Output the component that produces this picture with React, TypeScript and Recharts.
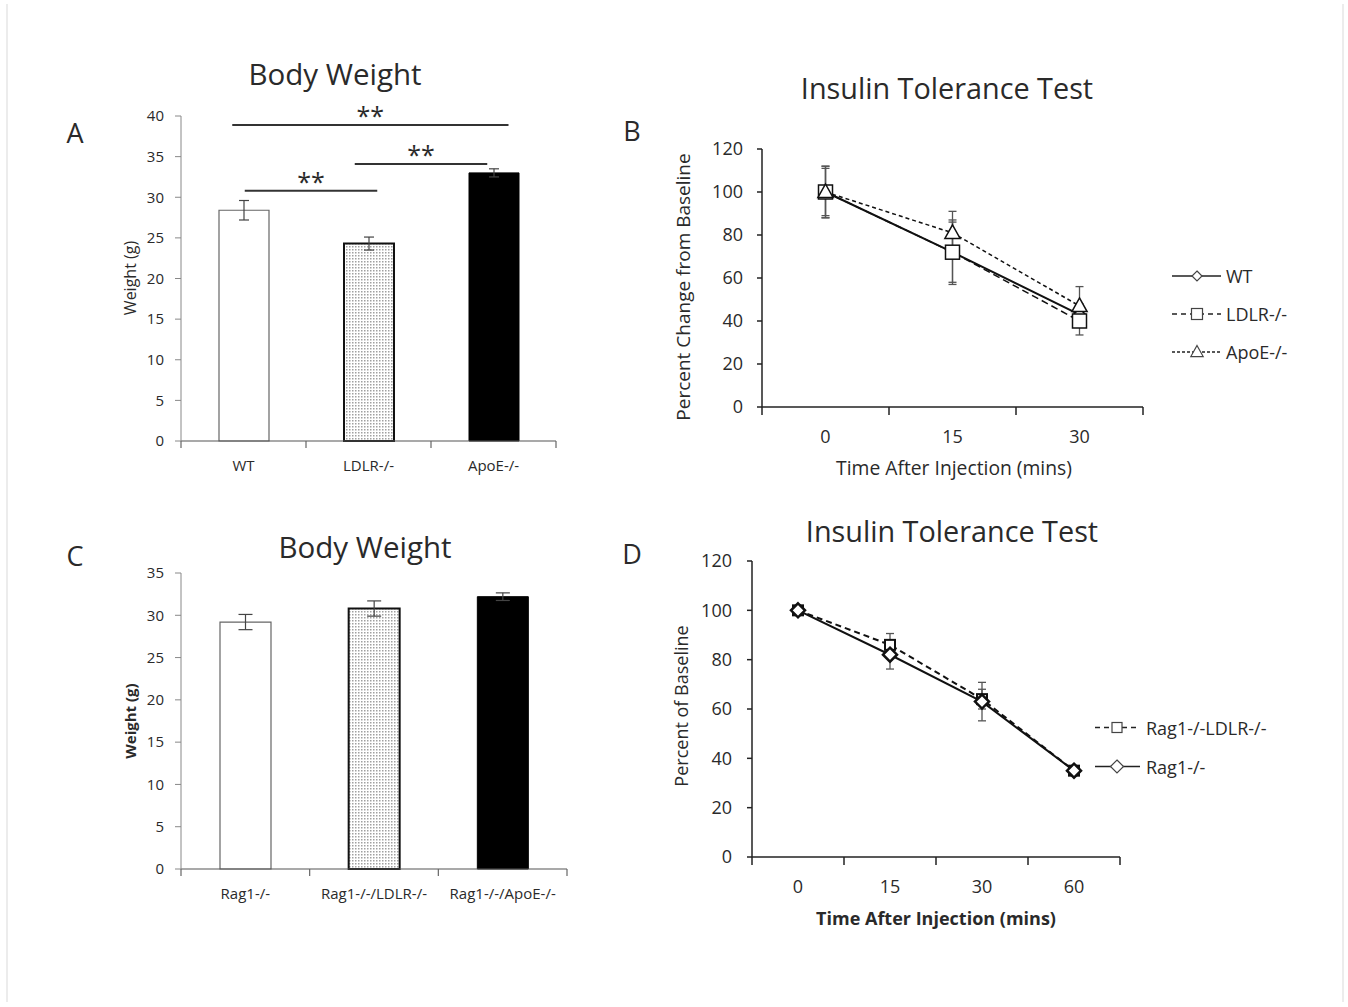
import { BarChart, Bar, LineChart, Line, XAxis, YAxis, ErrorBar, Cell, ReferenceLine, Legend } from 'recharts'

const FONT = "'Open Sans', 'DejaVu Sans', sans-serif"
const INK = '#2a2a2a'

// Panel A - body weight, single knockouts
const groupsA = ['WT', 'LDLR-/-', 'ApoE-/-']
const weightA = [28.4, 24.3, 33.0]
const weightErrA = [1.2, 0.8, 0.5]
// significance brackets (x in group units, y in grams)
const sigA = [
  { from: 0.51, to: 1.57, y: 30.8 },
  { from: 1.39, to: 2.45, y: 34.1 },
  { from: 0.41, to: 2.62, y: 38.9 },
]

// Panel B - insulin tolerance, single knockouts
const timesB = ['0', '15', '30']
const wtB = [100, 72, 43]
const wtErrB = [12, 14, 5]
const ldlrB = [100, 72, 40]
const ldlrErrB = [11, 15, 6.5]
const apoeB = [100, 81, 47]
const apoeErrB = [12, 10, 9]

// Panel C - body weight, Rag1 backgrounds
const groupsC = ['Rag1-/-', 'Rag1-/-/LDLR-/-', 'Rag1-/-/ApoE-/-']
const weightC = [29.2, 30.8, 32.2]
const weightErrC = [0.9, 0.9, 0.45]

// Panel D - insulin tolerance, Rag1 backgrounds
const timesD = ['0', '15', '30', '60']
const rag1LdlrD = [100, 86, 64, 35]
const rag1LdlrErrD = [0.5, 4.6, 4, 1.5]
const rag1D = [100, 82, 63, 35]
const rag1ErrD = [0.5, 5.8, 7.8, 1.5]

const barFills = (pid: string) => ['#fff', `url(#${pid})`, '#000']
const barStrokes = ['#666', '#111', '#000']
const barStrokeWidths = [1.2, 2, 1]

const seriesB = [
  { key: 'wt', name: 'WT', values: wtB, errs: wtErrB, dash: undefined, legendDash: undefined, sw: 2, marker: 'diamond', r: 6, legendR: 5, msw: 1.5 },
  { key: 'ldlr', name: 'LDLR-/-', values: ldlrB, errs: ldlrErrB, dash: '7 4', legendDash: '5 4', sw: 1.5, marker: 'square', r: 7, legendR: 5.5, msw: 1.5 },
  { key: 'apoe', name: 'ApoE-/-', values: apoeB, errs: apoeErrB, dash: '4 3', legendDash: '3 2', sw: 1.5, marker: 'triangle', r: 8, legendR: 6.5, msw: 1.5 },
]

const seriesD = [
  { key: 'rl', name: 'Rag1-/-LDLR-/-', values: rag1LdlrD, errs: rag1LdlrErrD, dash: '6 4', legendDash: '5 4', sw: 2, marker: 'square', r: 5, legendR: 5, msw: 2 },
  { key: 'r', name: 'Rag1-/-', values: rag1D, errs: rag1ErrD, dash: undefined, legendDash: undefined, sw: 2, marker: 'diamond', r: 7, legendR: 6.5, msw: 2.5 },
]

const bandTicks = (n: number) => Array.from({ length: 2 * n + 1 }, (_, i) => i / 2)

// integer ticks = boundary marks, half ticks = category labels
function bandTick(labels: string[], o: { fontSize: number; dy: number; len: number; stroke: string; sw: number; bold?: boolean }) {
  return (props: any) => {
    const { x, y, payload } = props
    const v = Number(payload.value)
    if (Number.isInteger(v)) {
      return <line x1={x} x2={x} y1={y} y2={y + o.len} stroke={o.stroke} strokeWidth={o.sw} />
    }
    return (
      <text x={x} y={y + o.dy} textAnchor="middle" dominantBaseline="central" fontSize={o.fontSize}
        fontFamily={FONT} fill={INK} fontWeight={o.bold ? 700 : 400}>
        {labels[Math.floor(v)]}
      </text>
    )
  }
}

function Marker({ kind, cx, cy, r, sw, stroke = '#111' }: any) {
  if (kind === 'diamond') {
    return <path d={`M${cx} ${cy - r}L${cx + r} ${cy}L${cx} ${cy + r}L${cx - r} ${cy}Z`} fill="#fff" stroke={stroke} strokeWidth={sw} />
  }
  if (kind === 'square') {
    return <rect x={cx - r} y={cy - r} width={2 * r} height={2 * r} fill="#fff" stroke={stroke} strokeWidth={sw} />
  }
  return <path d={`M${cx} ${cy - r}L${cx + r * 0.95} ${cy + r * 0.7}L${cx - r * 0.95} ${cy + r * 0.7}Z`} fill="#fff" stroke={stroke} strokeWidth={sw} />
}

function Txt({ x, y, size, children, bold, rotate }: any) {
  return (
    <div style={{
      position: 'absolute', left: x, top: y, transform: `translate(-50%, -50%)${rotate ? ' rotate(-90deg)' : ''}`,
      fontSize: size, fontWeight: bold ? 700 : 400, lineHeight: 1, whiteSpace: 'nowrap', fontFamily: FONT, color: INK,
    }}>
      {children}
    </div>
  )
}

function WeightChart({ pid, groups, values, errs, yMax, width, height, margin, barSize, capHalf, sig }: any) {
  const data = groups.map((g: string, i: number) => ({ x: i + 0.5, name: g, w: values[i], err: errs[i] }))
  const yTicks = Array.from({ length: yMax / 5 + 1 }, (_, i) => i * 5)
  const fills = barFills(pid)
  return (
    <BarChart width={width} height={height} data={data} margin={margin}>
      <defs>
        <pattern id={pid} width={3} height={3} patternUnits="userSpaceOnUse">
          <rect width={3} height={3} fill="#fff" />
          <rect width={1.5} height={1.5} fill="#a0a0a0" />
        </pattern>
      </defs>
      <XAxis type="number" dataKey="x" domain={[0, groups.length]} ticks={bandTicks(groups.length)} interval={0}
        tickSize={0} tickMargin={0} tickLine={false} height={40} axisLine={{ stroke: '#555', strokeWidth: 1.2 }}
        tick={bandTick(groups, { fontSize: 15, dy: 24, len: 7, stroke: '#666', sw: 1.2 })} />
      <YAxis type="number" domain={[0, yMax]} ticks={yTicks} interval={0} width={60} tickSize={6} tickMargin={11}
        axisLine={{ stroke: '#888' }} tickLine={{ stroke: '#888' }}
        tick={{ fontSize: 15, fill: INK, fontFamily: FONT }} />
      <Bar dataKey="w" barSize={barSize} isAnimationActive={false}>
        {data.map((_: any, i: number) => (
          <Cell key={i} fill={fills[i]} stroke={barStrokes[i]} strokeWidth={barStrokeWidths[i]} />
        ))}
        <ErrorBar dataKey="err" width={capHalf} stroke="#444" strokeWidth={1.2} />
      </Bar>
      {(sig || []).map((s: any, i: number) => (
        <ReferenceLine key={i} segment={[{ x: s.from, y: s.y }, { x: s.to, y: s.y }]} stroke="#333" strokeWidth={2}
          ifOverflow="visible"
          label={{ value: '**', position: 'top', offset: 0, fill: INK, fontSize: 25, fontFamily: FONT }} />
      ))}
    </BarChart>
  )
}

function LegendBox({ items, rowGap, lineEnd, markerX, textX, fontSize }: any) {
  return (
    <svg width={200} height={items.length * rowGap}>
      {items.map((s: any, i: number) => {
        const cy = rowGap / 2 + i * rowGap
        return (
          <g key={s.key}>
            <line x1={2} x2={lineEnd} y1={cy} y2={cy} stroke="#222" strokeWidth={1.5} strokeDasharray={s.legendDash} />
            <Marker kind={s.marker} cx={markerX} cy={cy} r={s.legendR} sw={1.2} stroke="#444" />
            <text x={textX} y={cy} dominantBaseline="central" fontSize={fontSize} fontFamily={FONT} fill={INK}>{s.name}</text>
          </g>
        )
      })}
    </svg>
  )
}

function IttChart({ times, series, width, height, margin, tickFont, tickMargin, xBold, legend }: any) {
  const data = times.map((t: string, i: number) => {
    const row: any = { x: i + 0.5, time: t }
    series.forEach((s: any) => {
      row[s.key] = s.values[i]
      row[`${s.key}Err`] = s.errs[i]
    })
    return row
  })
  return (
    <LineChart width={width} height={height} data={data} margin={margin}>
      <XAxis type="number" dataKey="x" domain={[0, times.length]} ticks={bandTicks(times.length)} interval={0}
        tickSize={0} tickMargin={0} tickLine={false} height={40} axisLine={{ stroke: '#222', strokeWidth: 1.5 }}
        tick={bandTick(times, { fontSize: tickFont, dy: 29, len: 8, stroke: '#222', sw: 1.5, bold: xBold })} />
      <YAxis type="number" domain={[0, 120]} ticks={[0, 20, 40, 60, 80, 100, 120]} interval={0} width={60}
        tickSize={5} tickMargin={tickMargin} axisLine={{ stroke: '#222', strokeWidth: 1.5 }}
        tickLine={{ stroke: '#222', strokeWidth: 1.5 }} tick={{ fontSize: tickFont, fill: INK, fontFamily: FONT }} />
      {series.map((s: any) => (
        <Line key={s.key} type="linear" dataKey={s.key} stroke="#111" strokeWidth={s.sw} strokeDasharray={s.dash}
          isAnimationActive={false} activeDot={false}
          dot={(p: any) => <Marker key={`${s.key}-${p.index}`} kind={s.marker} cx={p.cx} cy={p.cy} r={s.r} sw={s.msw} />}>
          <ErrorBar dataKey={`${s.key}Err`} width={4} stroke="#555" strokeWidth={1.3} direction="y" />
        </Line>
      ))}
      <Legend layout="vertical" align="center" verticalAlign="middle"
        wrapperStyle={{ left: legend.left, top: legend.top, width: 200 }}
        content={() => <LegendBox items={series} {...legend} />} />
    </LineChart>
  )
}

export default function App() {
  return (
    <div style={{ position: 'absolute', left: 0, top: 0, width: 1348, height: 1007, background: '#fff', overflow: 'hidden' }}>
      <div style={{ position: 'absolute', left: 6, top: 4, width: 1334, height: 998, borderLeft: '2px solid #ececec', borderRight: '2px solid #ececec' }} />

      {/* A */}
      <Txt x={75} y={132} size={27}>A</Txt>
      <Txt x={335} y={74} size={29.5}>Body Weight</Txt>
      <Txt x={130} y={278} size={16} rotate>Weight (g)</Txt>
      <div style={{ position: 'absolute', left: 100, top: 90 }}>
        <WeightChart pid="dotsA" groups={groupsA} values={weightA} errs={weightErrA} yMax={40}
          width={476} height={400} margin={{ top: 26, right: 20, left: 21, bottom: 9 }}
          barSize={50} capHalf={5} sig={sigA} />
      </div>

      {/* B */}
      <Txt x={632} y={130} size={27}>B</Txt>
      <Txt x={947} y={88} size={28.8}>Insulin Tolerance Test</Txt>
      <Txt x={683} y={287} size={19} rotate>Percent Change from Baseline</Txt>
      <Txt x={954} y={468} size={19.3}>Time After Injection (mins)</Txt>
      <div style={{ position: 'absolute', left: 660, top: 130 }}>
        <IttChart times={timesB} series={seriesB} width={660} height={360}
          margin={{ top: 19, right: 177, left: 42, bottom: 43 }} tickFont={18} tickMargin={14}
          legend={{ left: 510, top: 127, rowGap: 38, lineEnd: 51, markerX: 27, textX: 56, fontSize: 18 }} />
      </div>

      {/* C */}
      <Txt x={75} y={555} size={27}>C</Txt>
      <Txt x={365} y={547} size={29.5}>Body Weight</Txt>
      <Txt x={130} y={721} size={15} bold rotate>Weight (g)</Txt>
      <div style={{ position: 'absolute', left: 100, top: 560 }}>
        <WeightChart pid="dotsC" groups={groupsC} values={weightC} errs={weightErrC} yMax={35}
          width={490} height={360} margin={{ top: 13, right: 23, left: 21, bottom: 11 }}
          barSize={51} capHalf={7} />
      </div>

      {/* D */}
      <Txt x={632} y={553} size={27}>D</Txt>
      <Txt x={952} y={531} size={28.8}>Insulin Tolerance Test</Txt>
      <Txt x={681} y={706} size={18} rotate>Percent of Baseline</Txt>
      <Txt x={936} y={918} size={18} bold>Time After Injection (mins)</Txt>
      <div style={{ position: 'absolute', left: 660, top: 545 }}>
        <IttChart times={timesD} series={seriesD} width={660} height={400}
          margin={{ top: 16, right: 200, left: 32, bottom: 48 }} tickFont={18} tickMargin={15}
          legend={{ left: 433, top: 163, rowGap: 39, lineEnd: 47, markerX: 24, textX: 53, fontSize: 18 }} />
      </div>
    </div>
  )
}
